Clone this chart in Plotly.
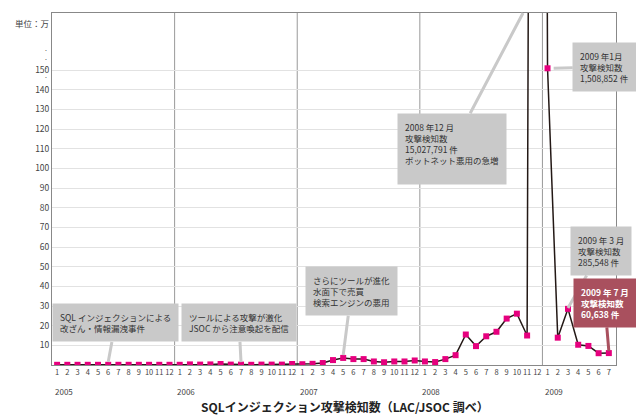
import plotly.graph_objects as go

years = [2005, 2006, 2007, 2008, 2009]
months_per_year = [12, 12, 12, 12, 7]
# 単位：万件
values = [
    0.1, 0.1, 0.1, 0.1, 0.1, 0.1, 0.1, 0.1, 0.1, 0.1, 0.1, 0.1,
    0.1, 0.3, 0.2, 0.3, 0.5, 0.2, 0.2, 0.1, 0.2, 0.2, 0.2, 0.5,
    0.4, 0.6, 1.0, 2.5, 3.6, 3.0, 3.0, 1.8, 1.4, 1.8, 1.8, 2.3,
    1.8, 1.5, 3.0, 5.0, 15.5, 9.6, 14.6, 16.9, 23.6, 26.1, 15.0, 1502.78,
    150.89, 13.9, 28.55, 10.3, 9.7, 6.0, 6.06,
]
ytick_vals = list(range(10, 160, 10))

month_labels = []
for y, n in zip(years, months_per_year):
    month_labels += [str(m) for m in range(1, n + 1)]
xs = list(range(len(values)))
font = "Noto Sans CJK JP"

fig = go.Figure(go.Scatter(
    x=xs, y=values, mode="lines+markers",
    line=dict(color="#231815", width=1.5),
    marker=dict(symbol="square", size=6, color="#e6007e"),
    cliponaxis=True,
))

start = 0
for n in months_per_year[:-1]:
    start += n
    fig.add_shape(type="line", xref="x", yref="paper", x0=start - 0.5, x1=start - 0.5,
                  y0=0, y1=1, line=dict(color="#999", width=1), layer="below")

start = 0
for y, n in zip(years, months_per_year):
    fig.add_annotation(x=start - 0.45, y=-0.075, xref="x", yref="paper", text=str(y),
                       showarrow=False, xanchor="left", yanchor="middle",
                       font=dict(size=8, color="#444", family=font))
    start += n

gray = "#c9c9c9"
def box(text, x, y, ax, ay, bg=gray, color="#333"):
    fig.add_annotation(x=x, y=y, ax=ax, ay=ay, axref="x", ayref="y", text=text,
                       showarrow=True, arrowhead=0, arrowwidth=3, arrowcolor=bg,
                       bgcolor=bg, borderpad=7, align="left",
                       font=dict(size=8.5, color=color, family=font))

box("SQL インジェクションによる<br>改ざん・情報漏洩事件", 5, 1.5, 5.7, 21.4)
box("ツールによる攻撃が激化<br>JSOC から注意喚起を配信", 18, 1.5, 17.8, 21.4)
box("さらにツールが進化<br>水面下で売買<br>検索エンジンの悪用", 28, 5, 28.8, 37.5)
box("2008 年12 月<br>攻撃検知数<br>15,027,791 件<br>ボットネット悪用の急増<br> ", 45.6, 179, 38.6, 110)
box("2009 年1月<br>攻撃検知数<br>1,508,852 件", 48.6, 150.9, 53.6, 151.7)
box("2009 年 3 月<br>攻撃検知数<br>285,548 件", 50, 29, 53.2, 58)
box("<b>2009 年 7 月<br>攻撃検知数<br>60,638 件</b>", 54, 7, 53.6, 31.6, bg="#a9505e", color="white")

fig.add_annotation(x=-0.07, y=0.995, xref="paper", yref="paper", text="単位：万", showarrow=False,
                   font=dict(size=8.5, color="#444", family=font), xanchor="left")
fig.add_annotation(x=-0.018, y=0.915, xref="paper", yref="paper", text="·<br>·<br>·<br>·", showarrow=False,
                   font=dict(size=7, color="#444", family=font))
fig.add_annotation(x=0.52, y=-0.118, xref="paper", yref="paper",
                   text="<b>SQLインジェクション攻撃検知数（LAC/JSOC 調べ）</b>", showarrow=False,
                   font=dict(size=12, color="#222", family=font), yanchor="middle")

fig.update_layout(
    width=644, height=415, margin=dict(l=44, r=36, t=5, b=58),
    paper_bgcolor="white", plot_bgcolor="white", showlegend=False,
    xaxis=dict(range=[-0.5, 54.7], tickvals=xs, ticktext=month_labels, showgrid=False,
               tickangle=0, tickfont=dict(size=7.5, color="#444", family=font), ticks="",
               zeroline=False, showline=True, mirror=True, linecolor="#888"),
    yaxis=dict(range=[0, 179], tickvals=ytick_vals, showgrid=True, gridcolor="#e2e2e2",
               tickfont=dict(size=8.5, color="#444", family=font), zeroline=False,
               showline=True, mirror=True, linecolor="#888"),
)
fig.write_html("out.html")
